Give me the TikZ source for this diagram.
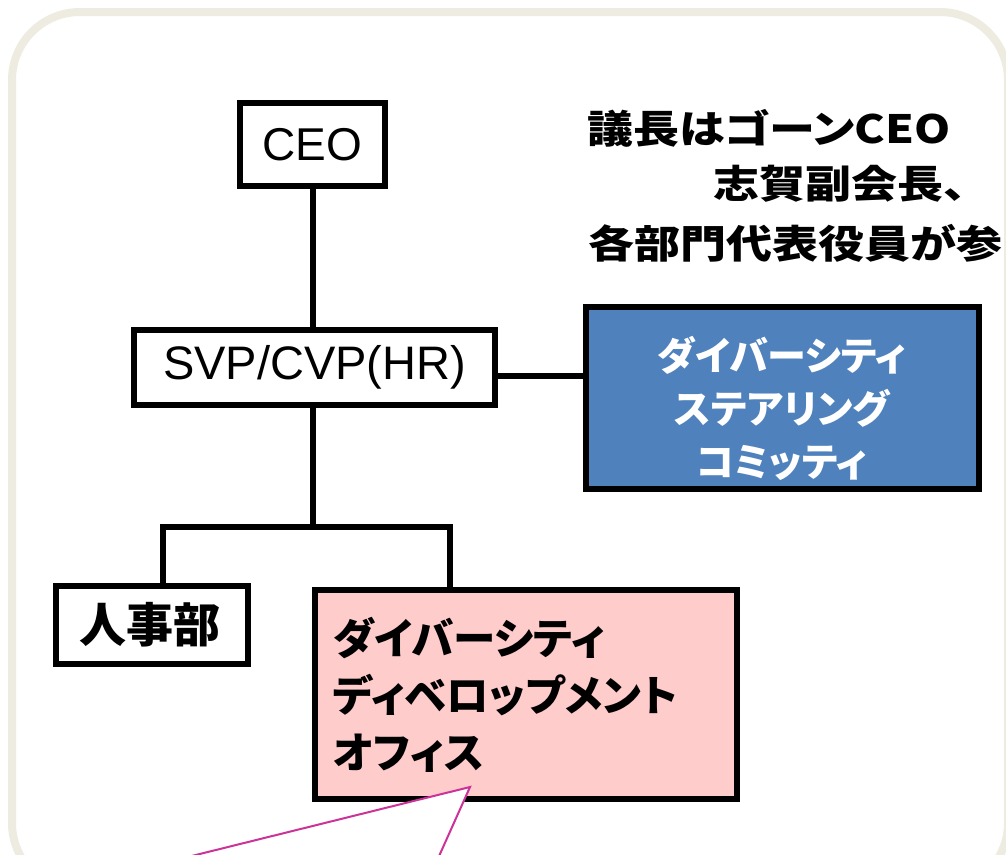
\documentclass[tikz,border=0pt]{standalone}
\usepackage{fontspec}
\setmainfont{Liberation Sans}
\newfontfamily\jp{Noto Sans CJK JP}
\newfontfamily\jpp[RawFeature=+palt]{Noto Sans CJK JP}
\newfontfamily\jpw[FakeStretch=1.18]{Noto Sans CJK JP}
\newfontfamily\jpwp[FakeStretch=1.18,RawFeature=+palt]{Noto Sans CJK JP}
\usetikzlibrary{calc}
\definecolor{framebeige}{HTML}{EEECE1}
\definecolor{boxblue}{HTML}{4F81BD}
\definecolor{boxpink}{HTML}{FFCCCC}
\definecolor{calloutpink}{HTML}{CC3399}
\begin{document}
\begin{tikzpicture}[x=1pt,y=-1pt,
  orgbox/.style={draw=black,line width=6pt,rectangle,inner sep=0pt},
  conn/.style={line width=6pt,line join=miter},
  toptext/.style={font=\jpw\bfseries\fontsize{39}{39}\selectfont,inner sep=0pt,anchor=west}
]
\useasboundingbox (0,0) rectangle (1006,854);
\clip (0,0) rectangle (1006,854);
\fill[white] (0,0) rectangle (1006,854);
% outer frame
\draw[framebeige,line width=8pt,rounded corners=68pt] (12,12) rectangle (1008,891);

% boxes
\node[orgbox,fill=white,minimum width=145pt,minimum height=83pt,
  font=\fontsize{46}{46}\selectfont] (ceo) at (312.5,144.5) {CEO};
\node[orgbox,fill=white,minimum width=361pt,minimum height=75pt,
  font=\fontsize{47}{47}\selectfont] (svp) at (314.5,367.5) {SVP/CVP(HR)};
\node[orgbox,fill=boxblue,minimum width=393pt,minimum height=182pt] (dsc) at (782.5,398) {};
\node[orgbox,fill=white,minimum width=192pt,minimum height=78pt] (hr) at (152,625) {};
\node[orgbox,fill=boxpink,minimum width=422pt,minimum height=209pt] (ddo) at (526,694.5) {};

% connectors
\coordinate (jc) at (313,527);
\coordinate (jl) at (163,527);
\coordinate (jr) at (450,527);
\draw[conn] (ceo.south -| jc) -- (svp.north -| jc);
\draw[conn] (svp.south -| jc) -- (jc);
\draw[conn] ($(svp.east)+(0,8.5)$) -- ($(dsc.west |- svp.east)+(0,8.5)$);
\draw[conn] (hr.north -| jl) -- (jl) -- (jr) -- (ddo.north -| jr);

% texts
\node[font=\jpp\bfseries\fontsize{39}{53}\selectfont,inner sep=0pt,text=white,align=center] (dsct) at (782,408)
  {ダイバーシティ\\ステアリング\\コミッティ};
\node[font=\jp\bfseries\fontsize{47}{47}\selectfont,inner sep=0pt] (hrt) at (150,625) {人事部};
\node[font=\jpp\bfseries\fontsize{42.5}{57}\selectfont,inner sep=0pt,anchor=west,align=left] (ddot) at (333,695)
  {ダイバーシティ\\ディベロップメント\\オフィス};

\node[toptext,font=\jpwp\bfseries\fontsize{39}{39}\selectfont] (n1) at (587,128.5) {議長はゴーンCEO};
\node[toptext] (n2) at (713,184) {志賀副会長、};
\node[toptext] (n3) at (588,243.5) {各部門代表役員が参};

% callout pointer
\coordinate (tip) at (470,787);
\coordinate (cl) at (119,874);
\coordinate (cr) at (427,883);
\fill[white] (cl) -- (tip) -- (cr) -- cycle;
\draw[calloutpink,line width=2pt] (cl) -- (tip) -- (cr);
\end{tikzpicture}
\end{document}
